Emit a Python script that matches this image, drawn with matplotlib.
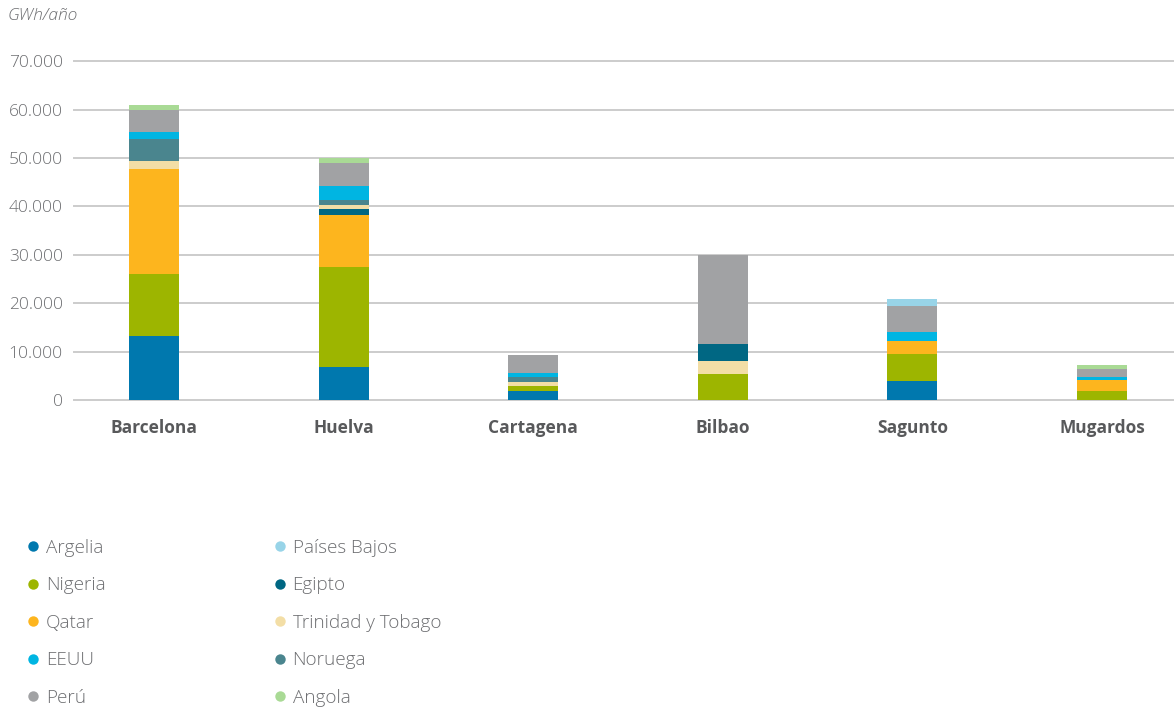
import matplotlib
matplotlib.use("Agg")
import matplotlib.pyplot as plt
from matplotlib.lines import Line2D

# Regasification plants (GWh/año) by origin country
ports = ["Barcelona", "Huelva", "Cartagena", "Bilbao", "Sagunto", "Mugardos"]

argelia = [13300, 6850, 1870, 0, 3940, 0]
nigeria = [12800, 20540, 1030, 5400, 5600, 1930]
qatar = [21600, 10780, 0, 0, 2700, 2220]
egipto = [0, 1250, 0, 3530, 0, 0]
trinidad = [1650, 890, 900, 2700, 0, 0]
noruega = [4550, 980, 970, 0, 0, 0]
eeuu = [1500, 2900, 830, 0, 1870, 690]
peru = [4600, 4770, 3740, 18380, 5390, 1590]
paises_bajos = [0, 0, 0, 0, 1450, 0]
angola = [1000, 1040, 0, 0, 0, 830]

y_ticks = [0, 10000, 20000, 30000, 40000, 50000, 60000, 70000]
y_tick_labels = ["0", "10.000", "20.000", "30.000", "40.000", "50.000", "60.000", "70.000"]

series = {
    "Argelia": argelia,
    "Nigeria": nigeria,
    "Qatar": qatar,
    "EEUU": eeuu,
    "Perú": peru,
    "Países Bajos": paises_bajos,
    "Egipto": egipto,
    "Trinidad y Tobago": trinidad,
    "Noruega": noruega,
    "Angola": angola,
}

colors = {
    "Argelia": "#0078ae",
    "Nigeria": "#9db500",
    "Qatar": "#fdb51e",
    "EEUU": "#00b5e2",
    "Perú": "#a1a2a4",
    "Países Bajos": "#98d4e8",
    "Egipto": "#006783",
    "Trinidad y Tobago": "#f3dea6",
    "Noruega": "#4a858e",
    "Angola": "#a9da95",
}

default_stack = ["Argelia", "Nigeria", "Qatar", "Egipto", "Trinidad y Tobago",
                 "Noruega", "EEUU", "Perú", "Países Bajos", "Angola"]
bilbao_stack = ["Argelia", "Nigeria", "Qatar", "Trinidad y Tobago", "Egipto",
                "Noruega", "EEUU", "Perú", "Países Bajos", "Angola"]
stack_orders = [default_stack, default_stack, default_stack, bilbao_stack,
                default_stack, default_stack]

plt.rcParams["font.family"] = ["Open Sans", "DejaVu Sans"]
text_grey = "#6d6e71"

fig = plt.figure(figsize=(11.74, 7.08), dpi=100)
ax = fig.add_axes([0.063, 0.435, 0.937, 0.4787])

bar_w = 0.264
for i, port in enumerate(ports):
    bottom = 0
    for name in stack_orders[i]:
        v = series[name][i]
        if v > 0:
            ax.bar(i, v, bottom=bottom, width=bar_w, color=colors[name],
                   linewidth=0, zorder=3)
            bottom += v

ax.set_xlim(-0.422, 5.38)
ax.set_ylim(0, 70000)
ax.set_yticks(y_ticks)
ax.set_yticklabels(y_tick_labels, fontsize=12.5, color=text_grey, fontweight="light")
ax.set_xticks(range(len(ports)))
ax.set_xticklabels(ports, fontsize=12.5, fontweight="bold", color="#58595b")
ax.tick_params(axis="y", length=0, pad=8)
ax.tick_params(axis="x", length=0, pad=14)
ax.yaxis.grid(True, color="#cccccc", linewidth=1.4, zorder=0)
ax.set_axisbelow(True)
for s in ax.spines.values():
    s.set_visible(False)
for gl in ax.get_ygridlines():
    gl.set_clip_on(False)

fig.text(0.0068, 0.977, "GWh/año", fontsize=12.5, style="italic", color=text_grey,
         fontweight="light", ha="left", va="center")

# Legend in two columns
legend_cols = [["Argelia", "Nigeria", "Qatar", "EEUU", "Perú"],
               ["Países Bajos", "Egipto", "Trinidad y Tobago", "Noruega", "Angola"]]
handles = []
labels = []
for col in legend_cols:
    for name in col:
        handles.append(Line2D([], [], marker="o", linestyle="none", markersize=7.5,
                              markerfacecolor=colors[name], markeredgewidth=0))
        labels.append(name)
leg = fig.legend(handles, labels, ncol=2, loc="upper left",
                 bbox_to_anchor=(0.0208, 0.239), frameon=False,
                 prop={"size": 13.6, "weight": "light"},
                 handletextpad=0.2, columnspacing=8.74, labelspacing=1.035,
                 handlelength=0.95, borderaxespad=0, borderpad=0)
for t in leg.get_texts():
    t.set_color(text_grey)

fig.savefig("out.png", dpi=100)
